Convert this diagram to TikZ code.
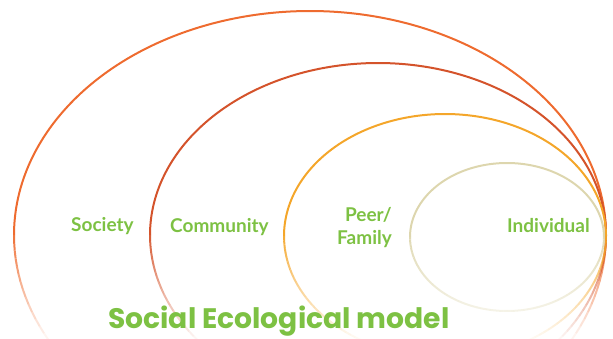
\documentclass[tikz,border=0pt]{standalone}
\usepackage{fontspec}
\setmainfont{Lato}
\newfontfamily\titlefont{Poppins}
\definecolor{societyc}{HTML}{EE6B2F}
\definecolor{communityc}{HTML}{D4532B}
\definecolor{peerc}{HTML}{F4A62A}
\definecolor{indivc}{HTML}{DDD6AE}
\definecolor{labelgreen}{HTML}{7DC143}
\newcommand\fadedellipse[5]{%
  \draw[#5, line width=2pt] plot[domain=180:360, samples=120, smooth] ({#1+#3*cos(\x)},{#2+#4*sin(\x)});
  \foreach \t in {0,2,...,178}{%
    \pgfmathsetmacro\ym{#2+#4*sin(\t+1)}%
    \pgfmathsetmacro\op{max(0.04,min(1,1-0.92*(\ym-230)/105))}%
    \draw[#5, line width=2pt, opacity=\op] ({#1+#3*cos(\t)},{#2+#4*sin(\t)}) -- ({#1+#3*cos(\t+2)},{#2+#4*sin(\t+2)});
  }%
}
\begin{document}
\begin{tikzpicture}[x=1pt, y=-1pt,
  lbl/.style={text=labelgreen, font=\fontsize{19}{22}\selectfont\bfseries, inner sep=0pt},
  ttl/.style={text=labelgreen, font=\titlefont\fontsize{28.2}{34}\selectfont\bfseries, inner sep=0pt}]
\useasboundingbox (0,0) rectangle (613,339);
\clip (0,0) rectangle (613,339);
\fadedellipse{310}{235}{296}{224}{societyc}
\fadedellipse{378}{235}{228}{172}{communityc}
\fadedellipse{445}{236}{161}{122}{peerc}
\fadedellipse{507}{237}{97}{74}{indivc}
\node[lbl, anchor=base west] (society) at (71,232) {Society};
\node[lbl, anchor=base west] (community) at (170,233) {Community};
\node[lbl, anchor=base east] (peer) at (392,222) {Peer/};
\node[lbl, anchor=base east] (family) at (392,244) {Family};
\node[lbl, anchor=base west] (individual) at (507,233) {Individual};
\node[ttl, anchor=base west] (title) at (108,328) {Social Ecological model};
\end{tikzpicture}
\end{document}
